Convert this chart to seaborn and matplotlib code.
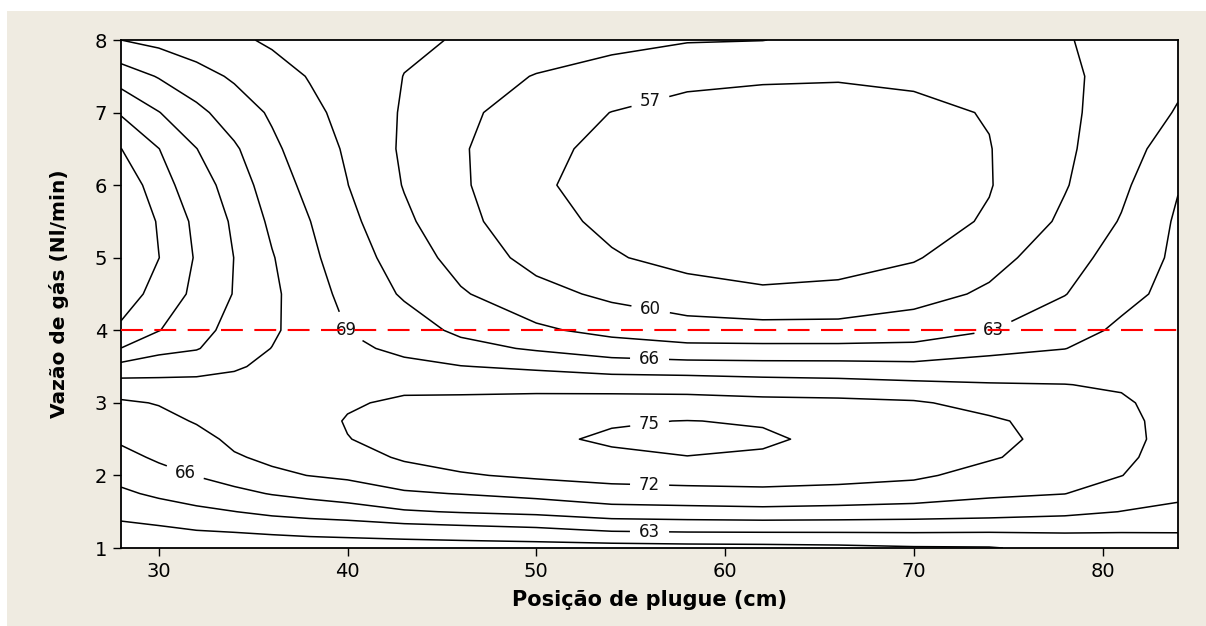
import numpy as np
import pandas as pd
import matplotlib
matplotlib.use("Agg")
import matplotlib.pyplot as plt
from matplotlib.patches import Rectangle
import seaborn as sns

# ---- data (response grid, columns = plug position) ----
plug_positions = [28, 30, 32, 34, 36, 38, 40, 43, 46, 50, 54, 58, 62, 66, 70, 74, 78, 81, 84]
gas_flows = [1.0, 1.25, 1.5, 1.75, 2.0, 2.25, 2.5, 2.75, 3.0, 3.25, 3.5, 3.75,
             4.0, 4.5, 5.0, 5.5, 6.0, 6.5, 7.0, 7.5, 8.0]

z_x28 = [57.6, 59.2, 60.85, 62.5, 63.9, 65.2, 66.4, 67.5, 68.6, 70.8, 74.1, 77.95, 80.3, 83.0, 84.3, 84.4, 83.4, 81.05, 77.7, 73.6, 69.0]
z_x30 = [57.9, 59.5, 61.6, 63.5, 65.1, 66.4, 67.3, 68.2, 69.15, 71.1, 73.4, 75.9, 78.1, 79.6, 81.05, 80.7, 79.2, 78.05, 75.1, 71.8, 68.2]
z_x32 = [58.0, 60.05, 62.35, 64.35, 66.1, 67.1, 68.15, 69.2, 70.25, 71.3, 72.9, 75.2, 76.15, 77.4, 77.7, 77.3, 76.4, 75.05, 72.75, 70.1, 67.3]
z_x34 = [58.1, 60.3, 62.95, 65.3, 67.1, 68.75, 69.55, 70.2, 70.8, 71.45, 72.2, 73.2, 73.9, 74.85, 74.96, 74.56, 73.7, 72.4, 70.55, 68.6, 66.5]
z_x36 = [58.2, 60.65, 63.7, 66.15, 68.5, 69.5, 69.8, 70.2, 70.65, 71.1, 71.6, 71.95, 72.4, 72.6, 72.2, 71.4, 70.4, 69.6, 68.6, 67.1, 65.6]
z_x38 = [58.3, 61.0, 64.2, 66.8, 69.05, 69.6, 70.1, 70.6, 71.0, 71.2, 71.2, 71.0, 70.7, 70.2, 69.6, 69.05, 68.25, 67.4, 66.6, 65.85, 65.1]
z_x40 = [58.4, 61.2, 64.6, 67.45, 69.5, 70.7, 71.9, 72.25, 71.6, 70.9, 70.25, 69.6, 68.95, 68.2, 67.5, 66.8, 66.05, 65.65, 65.25, 64.9, 64.5]
z_x43 = [58.5, 61.6, 65.7, 68.65, 70.65, 72.4, 73.2, 73.25, 72.6, 71.15, 69.65, 68.4, 67.4, 65.65, 64.6, 63.55, 62.85, 62.55, 62.7, 62.95, 63.5]
z_x46 = [58.6, 61.95, 66.2, 69.1, 71.7, 73.25, 73.95, 73.8, 72.8, 71.0, 69.1, 66.95, 65.4, 63.3, 61.9, 60.95, 60.43, 60.31, 60.65, 61.5, 62.8]
z_x50 = [58.7, 62.45, 66.7, 69.9, 72.5, 73.95, 74.6, 74.3, 73.1, 70.95, 68.5, 65.65, 63.5, 61.0, 59.0, 57.8, 57.3, 57.6, 58.5, 59.85, 61.8]
z_x54 = [58.8, 63.35, 67.65, 70.95, 72.9, 74.6, 75.3, 74.8, 73.05, 70.95, 67.55, 64.4, 62.15, 59.35, 57.2, 56.5, 56.2, 56.4, 56.95, 58.85, 60.8]
z_x58 = [59.0, 63.55, 67.9, 71.15, 73.1, 74.95, 75.6, 75.05, 73.05, 70.8, 67.3, 63.7, 61.4, 57.9, 56.3, 55.75, 55.5, 55.7, 56.2, 57.6, 60.2]
z_x62 = [59.1, 63.6, 68.1, 71.4, 73.05, 74.7, 75.35, 74.8, 72.8, 70.35, 67.1, 63.7, 61.1, 57.3, 56.1, 55.27, 55.0, 55.25, 56.0, 57.3, 60.05]
z_x66 = [59.3, 63.6, 67.95, 71.0, 73.0, 74.05, 74.4, 73.98, 72.7, 70.05, 67.05, 63.7, 61.1, 57.55, 56.15, 55.3, 55.0, 55.25, 55.99, 57.2, 59.2]
z_x70 = [59.7, 63.6, 67.7, 70.55, 72.5, 73.4, 73.7, 73.35, 72.35, 69.6, 66.85, 63.7, 61.65, 58.8, 56.74, 55.8, 55.5, 55.72, 56.37, 57.45, 58.6]
z_x74 = [59.8, 63.5, 67.3, 69.55, 70.95, 72.27, 72.8, 72.43, 71.0, 69.2, 67.25, 65.15, 62.9, 60.5, 58.95, 57.3, 56.85, 56.9, 57.15, 58.0, 58.9]
z_x78 = [60.9, 63.45, 66.75, 69.05, 70.1, 70.7, 71.0, 70.85, 70.2, 69.05, 67.5, 65.95, 64.95, 62.9, 61.75, 60.55, 59.8, 59.5, 59.4, 59.4, 59.8]
z_x81 = [61.3, 63.3, 65.95, 67.5, 69.05, 69.55, 69.8, 69.73, 69.38, 68.7, 68.0, 67.2, 66.45, 65.3, 64.25, 63.2, 62.4, 61.8, 61.35, 61.1, 61.0]
z_x84 = [61.7, 63.25, 65.35, 66.6, 67.3, 67.76, 68.0, 67.95, 67.85, 67.7, 67.5, 67.3, 67.1, 66.75, 66.55, 66.4, 65.85, 64.45, 63.2, 62.5, 62.0]

contour_levels = [57, 60, 63, 66, 69, 72, 75, 78, 81]
reference_flow = 4.0
x_ticks = [30, 40, 50, 60, 70, 80]
y_ticks = [1, 2, 3, 4, 5, 6, 7, 8]
x_label = "Posição de plugue (cm)"
y_label = "Vazão de gás (Nl/min)"

# where the inline contour labels sit (layout only)
label_spots = [(56.0, 7.2), (56.0, 4.2), (56.0, 3.59), (56.0, 2.72), (56.0, 1.82),
               (56.0, 1.22), (39.9, 4.0), (74.3, 3.97), (31.3, 1.97)]

# ---- build grid ----
Z = np.column_stack([z_x28, z_x30, z_x32, z_x34, z_x36, z_x38, z_x40, z_x43, z_x46,
                     z_x50, z_x54, z_x58, z_x62, z_x66, z_x70, z_x74, z_x78, z_x81, z_x84])
X, Y = np.meshgrid(plug_positions, gas_flows)

sns.set_theme(style="white")
plt.rcParams["font.family"] = ["DejaVu Sans"]

bg = "#EFEBE1"
fig = plt.figure(figsize=(12.06, 6.26), dpi=100, facecolor="white")
fig.add_artist(Rectangle((7 / 1206, 0), 1 - 7 / 1206, (626 - 11) / 626,
                         transform=fig.transFigure, facecolor=bg, edgecolor="none", zorder=-10))
ax = fig.add_axes([121 / 1206, (626 - 548) / 626, 1057 / 1206, 508 / 626])
ax.set_facecolor("white")

cs = ax.contour(X, Y, Z, levels=contour_levels, colors="black", linewidths=1.1)
texts = ax.clabel(cs, fmt="%d", fontsize=12, inline=True, inline_spacing=9,
                  manual=label_spots)
for t in texts:
    t.set_rotation(0)
    t.set_color("#111111")

ref_df = pd.DataFrame({"x": [plug_positions[0], plug_positions[-1]],
                       "y": [reference_flow, reference_flow]})
sns.lineplot(data=ref_df, x="x", y="y", ax=ax, color="#FF0000", linewidth=1.5,
             dashes=False, zorder=5)
ax.lines[-1].set_dashes((10.5, 5.5))

ax.set_xlim(plug_positions[0], plug_positions[-1])
ax.set_ylim(gas_flows[0], gas_flows[-1])
ax.set_xticks(x_ticks)
ax.set_yticks(y_ticks)
ax.tick_params(axis="both", which="both", direction="out", length=6, width=1.0,
               color="black", labelsize=14, pad=4, labelcolor="black",
               bottom=True, left=True)
for s in ax.spines.values():
    s.set_color("black")
    s.set_linewidth(1.3)

ax.set_xlabel(x_label, fontsize=15, fontweight="bold", color="black")
ax.set_ylabel(y_label, fontsize=14.5, fontweight="bold", color="black")
ax.xaxis.set_label_coords(0.5, -0.083)
ax.yaxis.set_label_coords(-0.049, 0.5)

fig.savefig("out.png", dpi=100, facecolor=fig.get_facecolor())
